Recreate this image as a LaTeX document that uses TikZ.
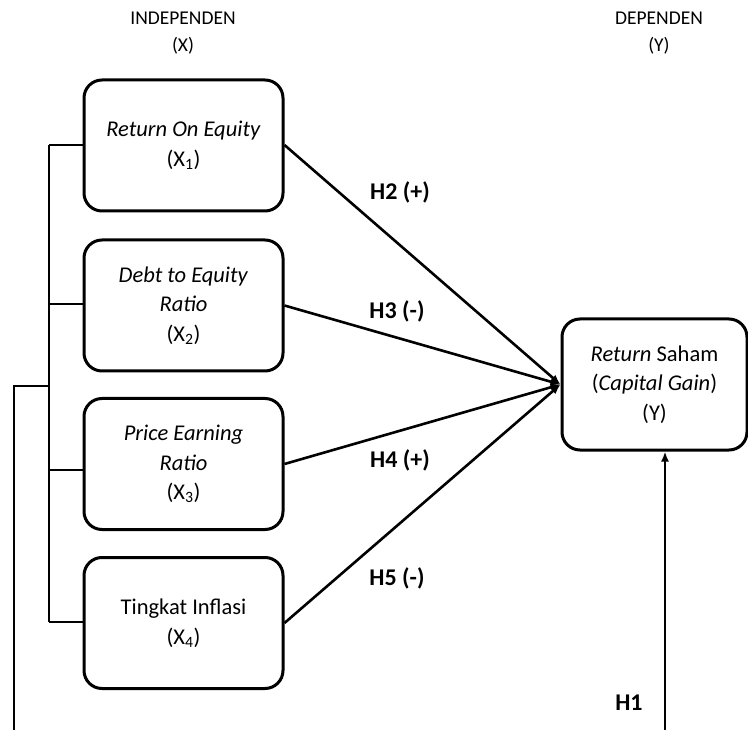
\documentclass[tikz,border=0pt]{standalone}
\usepackage{fontspec}
\setmainfont{Carlito}
\usetikzlibrary{arrows.meta}
\begin{document}
\begin{tikzpicture}[x=1pt,y=-1pt,
  box/.style={draw,line width=3pt,rounded corners=18pt,align=center,
    minimum width=199pt,minimum height=131pt,inner sep=0pt,
    font=\fontsize{22.5}{29.5}\selectfont},
  conn/.style={line width=2.8pt},
  arr/.style={line width=2.6pt,-{Latex[length=10pt,width=8pt]}},
  hlab/.style={font=\fontsize{24}{28}\selectfont\bfseries,inner sep=0pt},
  head/.style={font=\fontsize{19.5}{27}\selectfont,align=center,inner sep=0pt}]
\useasboundingbox (0,0) rectangle (748,730);
\node[head] (hx) at (183,33) {INDEPENDEN\\(X)};
\node[head] (hy) at (659,33) {DEPENDEN\\(Y)};
\node[box] (x1) at (183.5,145.5) {\textit{Return On Equity}\\(X\textsubscript{1})};
\node[box] (x2) at (183.5,305.5) {\textit{Debt to Equity}\\\textit{Ratio}\\(X\textsubscript{2})};
\node[box] (x3) at (183.5,464) {\textit{Price Earning}\\\textit{Ratio}\\(X\textsubscript{3})};
\node[box] (x4) at (183.5,623) {Tingkat Inflasi\\(X\textsubscript{4})};
\node[box,minimum width=185pt] (y) at (654.5,384.5) {\textit{Return} Saham\\(\textit{Capital Gain})\\(Y)};
% bus
\coordinate (b1) at (49,145);
\coordinate (b4) at (49,622);
\coordinate (bm) at (49,386);
\coordinate (o1) at (14,386);
\coordinate (o2) at (14,731);
\coordinate (h1s) at (665,731);
\draw[conn] (b1) -- (b4);
\draw[conn] (b1) -- (b1 -| x1.west);
\draw[conn] (49,304) -- (x2.west |- 0,304);
\draw[conn] (49,470) -- (x3.west |- 0,470);
\draw[conn] (b4) -- (b4 -| x4.west);
\draw[conn] (bm) -- (o1) -- (o2);
% arrows
\draw[arr] (x1.east |- 0,145) -- (y.west);
\draw[arr] (x2.east) -- (y.west);
\draw[arr] (x3.east) -- (y.west);
\draw[arr] (x4.east) -- (y.west);
\draw[arr] (h1s) -- (h1s |- y.south);
% labels
\node[hlab] (l2) at (400,192) {H2 (+)};
\node[hlab] (l3) at (397,311) {H3 (-)};
\node[hlab] (l4) at (400,460) {H4 (+)};
\node[hlab] (l5) at (397,578) {H5 (-)};
\node[hlab] (l1) at (629,703) {H1};
\end{tikzpicture}
\end{document}
